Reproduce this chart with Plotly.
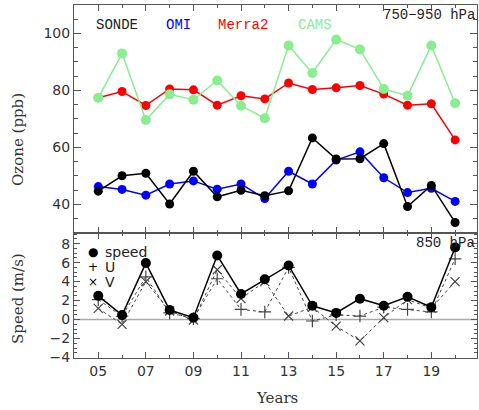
import plotly.graph_objects as go

years = list(range(2005, 2021))
sonde = [44.6, 50.0, 50.9, 40.1, 51.6, 42.6, 44.9, 43.0, 44.7, 63.3, 55.9, 56.0, 61.3, 39.2, 46.6, 33.6]
omi = [46.2, 45.2, 43.2, 47.1, 48.2, 45.3, 47.1, 42.0, 51.6, 47.1, 55.5, 58.4, 49.3, 44.1, 45.6, 41.0]
merra2 = [77.4, 79.6, 74.7, 80.5, 80.2, 74.8, 78.1, 77.0, 82.6, 80.3, 80.9, 81.7, 78.7, 74.8, 75.3, 62.6]
cams = [77.4, 93.0, 69.6, 78.6, 76.7, 83.5, 74.6, 70.2, 95.8, 86.1, 97.9, 94.4, 80.5, 78.1, 95.8, 75.5]

speed = [2.5, 0.47, 5.95, 1.0, 0.2, 6.75, 2.7, 4.24, 5.7, 1.45, 0.7, 2.2, 1.45, 2.4, 1.3, 7.6]
u_wind = [2.1, 0.35, 4.5, 0.7, 0.1, 4.3, 1.07, 0.8, 5.5, -0.15, 0.5, 0.37, 1.3, 1.07, 0.8, 6.4]
v_wind = [1.17, -0.5, 4.0, 0.9, -0.05, 5.25, 2.2, 4.0, 0.37, 1.3, -0.7, -2.25, 0.2, 2.1, 1.2, 4.0]

major_years = [2005, 2007, 2009, 2011, 2013, 2015, 2017, 2019]
major_labels = ["05", "07", "09", "11", "13", "15", "17", "19"]

W, H = 479, 410
L, R, T, B = 74, 2, 5, 52
PW, PH = W - L - R, H - T - B

def xp(px):
    return (px - L) / PW

def yp(py):
    return (H - B - py) / PH

split = yp(232.7)

fig = go.Figure()

top_series = [
    ("Merra2", merra2, "#ff0000", 9),
    ("CAMS", cams, "#88ee90", 10),
    ("OMI", omi, "#0000ff", 9),
    ("SONDE", sonde, "#000000", 9),
]
for name, vals, col, ms in top_series:
    fig.add_trace(go.Scatter(x=years, y=vals, mode="lines+markers", name=name,
                             line=dict(color=col, width=1.5),
                             marker=dict(color=col, size=ms, symbol="circle"),
                             xaxis="x", yaxis="y", showlegend=False))

fig.add_trace(go.Scatter(x=years, y=u_wind, mode="lines+markers", name="U",
                         line=dict(color="#444", width=1, dash="dot"),
                         marker=dict(symbol="cross-thin-open", size=9,
                                     line=dict(color="#333", width=1.2)),
                         xaxis="x2", yaxis="y2", showlegend=False))
fig.add_trace(go.Scatter(x=years, y=v_wind, mode="lines+markers", name="V",
                         line=dict(color="#444", width=1, dash="dot"),
                         marker=dict(symbol="x-thin-open", size=9,
                                     line=dict(color="#333", width=1.2)),
                         xaxis="x2", yaxis="y2", showlegend=False))
fig.add_trace(go.Scatter(x=years, y=speed, mode="lines+markers", name="speed",
                         line=dict(color="#000", width=1.5),
                         marker=dict(color="#000", size=10, symbol="circle"),
                         xaxis="x2", yaxis="y2", showlegend=False))

tickfont = dict(family="DejaVu Sans", size=14, color="#333")
axcommon = dict(showgrid=False, zeroline=False, showline=True, linecolor="#555",
                linewidth=1, mirror="ticks", ticks="inside", tickcolor="#555",
                tickfont=tickfont)

xr = [2003.98, 2020.92]
minor_x = dict(tickmode="array", tickvals=years + [2004, 2020], ticks="inside",
               ticklen=3, tickcolor="#555")

fig.update_layout(
    width=W, height=H,
    margin=dict(l=L, r=R, t=T, b=B),
    paper_bgcolor="white", plot_bgcolor="white",
    xaxis=dict(domain=[0, 1], anchor="y", range=xr, tickmode="array",
               tickvals=major_years, ticktext=major_labels, showticklabels=False,
               ticklen=6, minor=minor_x, **axcommon),
    yaxis=dict(domain=[split, 1], anchor="x", range=[30, 110],
               tickvals=[40, 60, 80, 100], ticklen=7,
               minor=dict(dtick=5, tick0=0, ticks="inside", ticklen=4, tickcolor="#555"),
               **axcommon),
    xaxis2=dict(domain=[0, 1], anchor="y2", range=xr, tickmode="array",
                tickvals=major_years, ticktext=major_labels, ticklen=6,
                minor=minor_x, **axcommon),
    yaxis2=dict(domain=[0, split], anchor="x2", range=[-4.05, 9.15],
                tickvals=[-4, -2, 0, 2, 4, 6, 8], ticklen=6,
                minor=dict(dtick=0.5, tick0=0, ticks="inside", ticklen=3, tickcolor="#555"),
                **axcommon),
)
fig.add_shape(type="line", xref="x2 domain", yref="y2", x0=0, x1=1, y0=0, y1=0,
              line=dict(color="#aaaaaa", width=1.5), layer="below")

mono = "Liberation Mono"
serif = "DejaVu Serif"
ann = []

def add(text, px, py, font, xanchor="center", angle=0):
    ann.append(dict(text=text, x=xp(px), y=yp(py), xref="paper", yref="paper",
                    xanchor=xanchor, yanchor="middle", textangle=angle,
                    showarrow=False, font=font, borderpad=0))

for text, cx, col in [("SONDE", 117, "#222"), ("OMI", 178, "#0000ff"),
                      ("Merra2", 243, "#ff0000"), ("CAMS", 315, "#88ee90")]:
    add(text, cx, 25, dict(family=mono, size=14, color=col))
add("750\u2212950 hPa", 476, 15, dict(family=mono, size=14, color="#222"), xanchor="right")
add("850 hPa", 476, 243, dict(family=mono, size=14, color="#222"), xanchor="right")
for sym, lab, py, sz in [("\u25cf", "speed", 252, 12), ("+", "U", 267, 12), ("\u00d7", "V", 282, 12)]:
    add(sym, 93, py, dict(family="DejaVu Sans", size=sz, color="#000"))
    add(lab, 104, py, dict(family="DejaVu Sans", size=14, color="#222"), xanchor="left")
add("Ozone (ppb)", 18, 140, dict(family=serif, size=15, color="#333"), angle=-90)
add("Speed (m/s)", 18, 299, dict(family=serif, size=15, color="#333"), angle=-90)
add("Years", 277, 398, dict(family=serif, size=15, color="#333"))
fig.update_layout(annotations=ann)

fig.write_html("out.html", config={"displayModeBar": False},
               post_script="document.body.style.margin='0';document.body.style.padding='0';")
